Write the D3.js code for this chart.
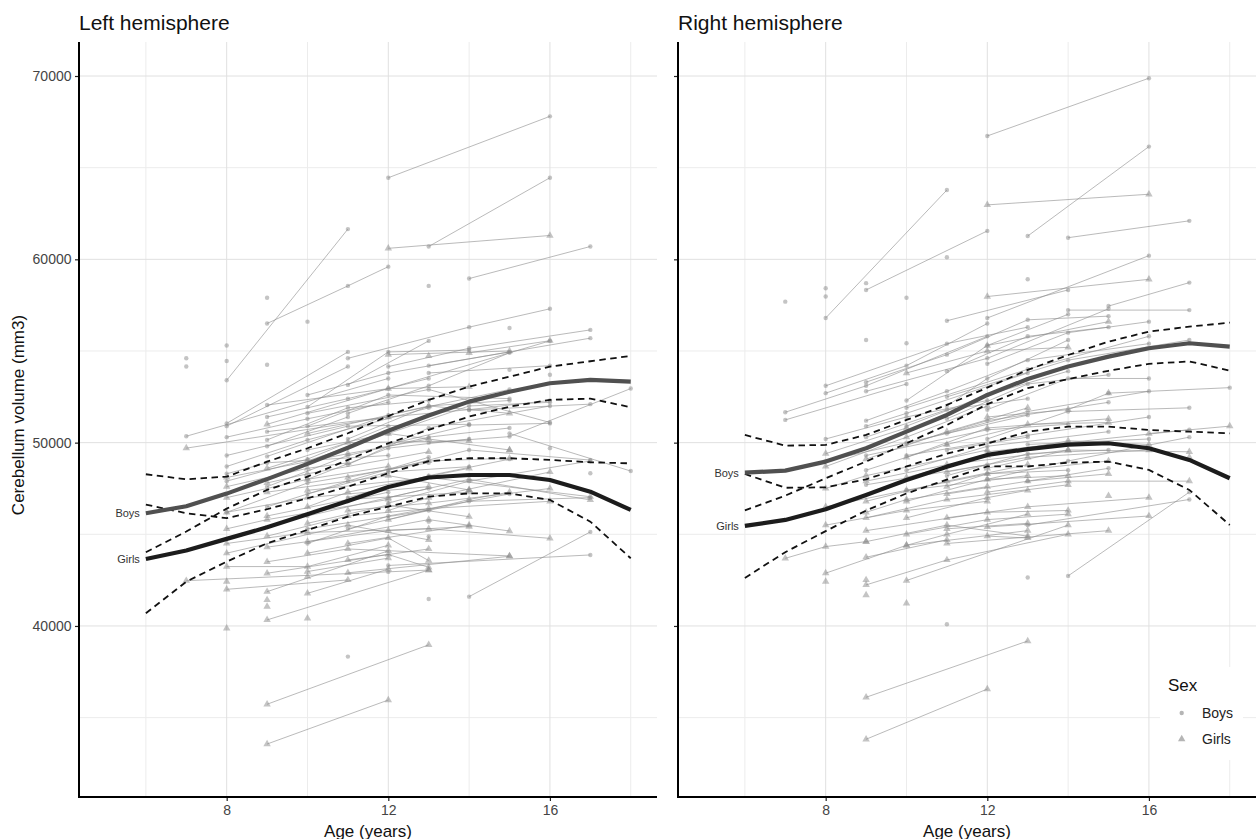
<!DOCTYPE html>
<html><head><meta charset="utf-8">
<script src="https://cdn.jsdelivr.net/npm/d3@7"></script>
<style>body{margin:0;background:#fff;} svg{display:block;font-family:"Liberation Sans",Arial,Helvetica,sans-serif;}</style>
</head><body><svg id="c" width="1256" height="839"></svg>
<script>
// ---------- DATA ----------
const ages = [6,7,8,9,10,11,12,13,14,15,16,17,18];

const leftBoysMean  = [46150,46530,47220,48010,48840,49720,50650,51480,52237,52780,53240,53420,53330];
const leftBoysUpper = [48276,48000,48145,48963,49694,50513,51450,52330,53055,53600,54146,54440,54730];
const leftBoysLower = [44024,45150,46400,47420,48145,49056,49967,50700,51419,51960,52334,52400,51930];
const leftGirlsMean = [43650,44120,44750,45380,46100,46820,47580,48100,48236,48236,47963,47325,46330];
const leftGirlsUpper= [46620,46150,45880,46367,46967,47600,48330,48990,49150,49150,49056,48930,48870];
const leftGirlsLower= [40690,42417,43508,44512,45237,45963,46510,47054,47236,47236,46875,45690,43693];

const rightBoysMean  = [48364,48473,48965,49694,50600,51511,52602,53470,54150,54691,55149,55422,55240];
const rightBoysUpper = [50420,49836,49875,50420,51238,52057,53000,53966,54780,55510,56055,56328,56546];
const rightBoysLower = [46308,47110,48055,48968,49962,50965,52100,52974,53470,53920,54300,54430,53930];
const rightGirlsMean = [45456,45783,46367,47147,47965,48691,49329,49650,49890,49967,49694,49056,48058];
const rightGirlsUpper= [48292,47540,47560,48000,48700,49400,49950,50600,50873,50873,50693,50600,50510];
const rightGirlsLower= [42620,44026,45174,46294,47230,47982,48708,48700,48910,48965,48510,47420,45510];

const xMajorTicks = [8,12,16];
const xMinorTicks = [6,10,14,18];
const yMajorTicks = [40000,50000,60000,70000];
const yMinorTicks = [35000,45000,55000,65000];
const legendLabels = ["Boys","Girls"];

// subjects: [sex, [[age, volume], ...]]
const leftSubjects = [
 ["B",[[12,64450],[16,67800]]],["B",[[13,60700],[16,64450]]],["G",[[12,60600],[16,61300]]],
 ["B",[[14,58950],[17,60700]]],["B",[[13,58550]]],["B",[[8,53400],[11,61650]]],
 ["B",[[9,56500],[11,58550],[12,59600]]],["B",[[7,54600]]],["B",[[7,54150]]],["B",[[8,55300]]],
 ["B",[[8,54450]]],["B",[[9,57900]]],["B",[[9,54250]]],["B",[[10,56600]]],
 ["B",[[7,50350],[12,53500]]],["G",[[7,49700],[12,51400]]],["B",[[8,51050],[11,54950]]],
 ["B",[[8,50900],[11,54150]]],["B",[[11,54600],[14,56300],[16,57300]]],["B",[[15,56250]]],
 ["B",[[11,53150],[13,55550]]],["B",[[12,54150],[14,55150],[17,56150]]],["G",[[14,54900],[16,55560]]],
 ["B",[[13,54200],[17,55700]]],["B",[[10,52600],[12,53800],[15,54950]]],["G",[[12,54800],[15,55000]]],
 ["G",[[13,54730]]],["B",[[15,53970]]],["B",[[16,53700]]],["B",[[9,52050],[12,52950],[16,55550]]],
 ["B",[[9,51400],[11,52400],[13,53500]]],["B",[[10,51950],[12,54950],[14,55050]]],
 ["B",[[9,50600],[12,51400],[14,51800],[16,52300]]],["B",[[10,51600],[13,52900],[16,51100]]],
 ["B",[[9,50150],[11,51900],[13,52300]]],["B",[[10,50900],[12,52600],[15,52400]]],
 ["B",[[8,48700],[10,50150],[13,51900]]],["B",[[9,49250],[12,51500],[15,52900]]],
 ["B",[[8,49300],[11,50900],[14,51000]]],["B",[[10,49600],[12,50500],[14,52000],[16,52200]]],
 ["B",[[11,50200],[13,52000],[15,52300]]],["B",[[12,49900],[14,50960],[16,51050]]],
 ["B",[[8,47900],[10,49100],[12,50900]]],["B",[[9,47600],[11,49300],[13,50300],[15,50800]]],
 ["B",[[10,48000],[12,49700],[14,50200]]],["B",[[11,48800],[13,50800],[16,52000]]],
 ["B",[[14,51780],[17,52100]]],["B",[[13,50000],[15,50330],[18,52950]]],
 ["B",[[12,48500],[14,49600],[17,49050]]],["B",[[16,49700]]],["B",[[17,48330]]],
 ["B",[[15,50500],[18,48450]]],["B",[[9,46500],[11,47900],[13,49200]]],
 ["B",[[10,47200],[12,48400],[14,48690]]],["B",[[8,46200],[10,47800],[13,48900]]],
 ["B",[[11,47000],[13,48200],[15,49100]]],["B",[[12,46700],[14,47900],[17,49000]]],
 ["B",[[9,45400],[11,46800],[12,47300]]],["B",[[10,46000],[13,47500]]],["B",[[13,45690]]],
 ["B",[[13,44880]]],["B",[[14,41600],[17,45130]]],["B",[[13,41470]]],["B",[[11,38330]]],
 ["B",[[12,42950]]],["B",[[10,44500],[12,46000],[15,47200]]],["B",[[11,45300],[14,46800],[17,47000]]],
 ["B",[[12,43300],[17,43875]]],
 ["B",[[8,50300],[10,51300],[12,52200]]],["B",[[9,49800],[11,51400]]],
 ["B",[[8,48300],[9,48900],[12,49300]]],["B",[[11,51600],[13,53100],[15,54900]]],
 ["B",[[13,53800],[16,54200]]],["B",[[10,45300],[13,46300]]],
 ["G",[[9,51000],[12,52950],[14,53050]]],["G",[[10,50500],[13,52000],[15,51600]]],
 ["G",[[8,48100],[11,49400],[13,50200]]],["G",[[9,48600],[11,50000],[14,50100]]],
 ["G",[[10,49000],[12,50500],[15,49600]]],["G",[[11,48100],[13,49000],[15,49150]]],
 ["G",[[8,47000],[10,48000],[12,48700]]],["G",[[9,47300],[12,48200],[14,47420]]],
 ["G",[[10,47400],[13,48100],[17,47050]]],["G",[[12,47000],[14,48000],[17,46875]]],
 ["G",[[8,46200],[10,47000],[13,47600]]],["G",[[9,46000],[11,46900],[14,47300]]],
 ["G",[[11,46300],[13,46700],[16,47500]]],["G",[[10,45600],[12,46600],[14,45960]]],
 ["G",[[8,45300],[9,45800],[12,46900]]],["G",[[9,44900],[11,46000],[13,46400],[16,46800]]],
 ["G",[[10,44600],[13,45800],[15,45180]]],["G",[[8,44500],[10,45100],[13,45300],[16,44780]]],
 ["G",[[9,44300],[12,45200],[14,45420]]],["G",[[11,44500],[14,45500]]],
 ["G",[[8,43970],[11,45500],[13,44700]]],["G",[[9,43500],[11,44200],[15,43820]]],
 ["G",[[10,43970],[12,44800],[13,43565]]],["G",[[8,43240],[10,43240],[12,44400]]],
 ["G",[[7,42470],[13,43050]]],["G",[[8,42000],[11,42510]]],["G",[[9,42875],[12,43900],[13,43200]]],
 ["G",[[9,41870],[12,44100]]],["G",[[10,41780],[12,43100]]],["G",[[8,42420]]],["G",[[9,41420]]],
 ["G",[[9,41055]]],["G",[[10,42970],[12,43700]]],["G",[[10,42690]]],["G",[[9,40330],[13,43050]]],
 ["G",[[8,39870]]],["G",[[10,40420]]],["G",[[9,35730],[13,38970]]],["G",[[9,33560],[12,35960]]],
 ["G",[[11,42900],[15,43800]]],["G",[[14,47420]]],["G",[[15,49600]]],
 ["G",[[8,47600],[10,48600],[11,48900]]],["G",[[9,47800],[10,48300],[13,49500]]],
 ["G",[[10,46500],[11,47300],[14,48600]]],["G",[[12,45800],[14,46900],[15,47300]]],
 ["G",[[11,43600],[13,44200]]],["G",[[12,46300],[13,47000],[16,48400]]]
];

const rightSubjects = [
 ["B",[[12,66730],[16,69880]]],["B",[[8,56800],[11,63780]]],["B",[[9,58330],[12,61550]]],
 ["B",[[9,58700]]],["B",[[8,58420]]],["B",[[8,57970]]],["G",[[12,62970],[16,63550]]],
 ["B",[[13,61270],[16,66150]]],["B",[[14,61180],[17,62100]]],["B",[[11,60110]]],["B",[[13,58910]]],
 ["B",[[7,57690]]],["B",[[9,55600]]],["B",[[10,55420]]],["B",[[10,57900]]],
 ["G",[[12,57970],[16,58910]]],["B",[[11,56650],[14,58330]]],["B",[[12,56800],[16,60200]]],
 ["B",[[15,57450],[17,58730]]],["B",[[14,57230],[17,57230]]],
 ["G",[[9,36110],[13,39180]]],["G",[[9,33820],[12,36560]]],["B",[[11,40090]]],["B",[[13,42640]]],
 ["B",[[14,42730],[17,47300]]],["G",[[7,43690],[8,44330],[9,44600]]],["G",[[8,42420]]],
 ["G",[[9,43750],[11,44700]]],["G",[[9,42510]]],["G",[[9,41690]]],["G",[[10,41240]]],
 ["G",[[8,42880],[10,44400],[13,45200]]],["G",[[9,42240],[11,43600],[14,45000]]],
 ["G",[[10,42480],[14,45500]]],["G",[[11,44500],[15,45200]]],["G",[[12,45400],[16,46000]]],
 ["B",[[13,45500],[17,46900]]],
 ["B",[[7,51660],[9,53100],[12,55800]]],["B",[[7,51240],[10,53200]]],
 ["B",[[8,53100],[11,55400],[13,56300]]],["B",[[8,52700],[10,54200],[12,56500]]],
 ["B",[[9,53300],[11,54800],[13,56700],[15,56900]]],["G",[[10,53800],[12,55000],[14,55200]]],
 ["B",[[9,52800],[12,54600],[15,57300]]],["B",[[10,52300],[12,55300],[14,57000]]],
 ["B",[[11,53900],[13,55800],[15,56300]]],["B",[[12,54300],[14,56000],[16,56600]]],
 ["B",[[10,51900],[13,54000],[16,55800]]],["G",[[12,55300],[15,56600]]],
 ["B",[[11,52500],[14,54500],[17,55600]]],["B",[[9,51200],[11,52800],[13,54500],[16,55400]]],
 ["B",[[10,50900],[12,52600],[14,53900]]],["B",[[11,51300],[13,53200],[15,53700]]],
 ["B",[[12,51800],[14,53500],[16,53500]]],["B",[[15,52700],[18,53000]]],["G",[[16,50500],[18,50900]]],
 ["B",[[9,50300],[11,51800],[13,52400]]],["B",[[10,49900],[12,51200],[15,52200]]],
 ["B",[[8,50200],[10,51400],[12,52300]]],["B",[[11,50500],[13,51700],[16,52800]]],
 ["B",[[12,50200],[14,51700],[17,51900]]],["B",[[9,49300],[12,50700],[14,51000]]],
 ["B",[[10,49300],[13,50400],[16,51400]]],["B",[[11,49600],[13,50300]]],
 ["B",[[8,49000],[10,50000],[13,51500]]],["B",[[12,49500],[14,50000],[17,50700]]],
 ["B",[[9,48500],[11,49900]]],["B",[[10,48500],[12,49800],[15,50600]]],["B",[[13,49900],[16,50200]]],
 ["B",[[11,48200],[13,49400],[15,49600]]],["B",[[12,48000],[14,49000],[17,50300]]],
 ["B",[[9,47700],[12,48800]]],["B",[[10,47400],[12,48300],[14,48500]]],
 ["B",[[9,50900],[10,51600],[13,53800]]],["B",[[11,52000],[12,53500],[14,55600]]],
 ["B",[[13,47900],[15,48600]]],
 ["G",[[8,48700],[10,50300],[12,52000]]],["G",[[9,49100],[11,50600],[13,51900]]],
 ["G",[[10,49200],[12,50800],[15,51300]]],["G",[[11,49900],[13,51000],[15,51100]]],
 ["G",[[8,47500],[9,48200],[12,49600]]],["G",[[9,47900],[11,48800],[14,49600]]],
 ["G",[[10,48100],[12,49300],[14,50100],[16,49900]]],["G",[[11,48400],[13,49200],[16,49600]]],
 ["G",[[12,48600],[14,49600],[17,49500]]],["G",[[9,46800],[11,47900],[13,48800]]],
 ["G",[[10,46800],[12,48000],[14,48200]]],["G",[[8,46500],[10,47400],[13,48200]]],
 ["G",[[11,47200],[13,47900],[15,48300]]],["G",[[12,47300],[14,47900],[17,47900]]],
 ["G",[[9,45900],[11,46900],[14,47700]]],["G",[[10,45900],[12,47000],[13,47400]]],
 ["G",[[8,45500],[10,46300],[12,46800]]],["G",[[9,45200],[12,46200],[14,46300]]],
 ["G",[[11,45900],[13,46500],[16,47000]]],["G",[[10,45000],[12,45800],[14,46100]]],
 ["G",[[9,44600],[11,45500],[13,44900]]],["G",[[11,45300],[13,45600]]],
 ["G",[[12,44900],[13,44800]]],["G",[[15,47100]]],["G",[[17,49200]]],
 ["G",[[8,49400],[10,50800]]],["G",[[9,46200],[10,46900],[12,47600]]],
 ["G",[[10,44400],[11,45000],[13,46100]]],["G",[[12,51400],[14,51800],[15,52700]]],
 ["G",[[11,47600],[12,48300],[15,49000]]]
];

// ---------- DRAW ----------
const svg = d3.select("#c");
const yTop = 42, yBot = 797;
const y = d3.scaleLinear().domain([30670, 71855]).range([yBot, yTop]);

const panels = [
  {title:"Left hemisphere", x0:79, x1:657, subjects:leftSubjects, yLabels:true,
   bm:leftBoysMean, bu:leftBoysUpper, bl:leftBoysLower, gm:leftGirlsMean, gu:leftGirlsUpper, gl:leftGirlsLower},
  {title:"Right hemisphere", x0:678, x1:1256, subjects:rightSubjects, yLabels:false,
   bm:rightBoysMean, bu:rightBoysUpper, bl:rightBoysLower, gm:rightGirlsMean, gu:rightGirlsUpper, gl:rightGirlsLower}
];

const tri = d3.symbol().type(d3.symbolTriangle).size(24);

panels.forEach((p, pi) => {
  const x = d3.scaleLinear().domain([4.345, 18.65]).range([p.x0, p.x1]);
  const g = svg.append("g");

  // grid
  const grid = g.append("g");
  grid.selectAll(".hmin").data(yMinorTicks).join("line")
    .attr("x1", p.x0).attr("x2", p.x1).attr("y1", d=>y(d)).attr("y2", d=>y(d))
    .attr("stroke", "#ececec").attr("stroke-width", 1);
  grid.selectAll(".vmin").data(xMinorTicks).join("line")
    .attr("y1", yTop).attr("y2", yBot).attr("x1", d=>x(d)).attr("x2", d=>x(d))
    .attr("stroke", "#ececec").attr("stroke-width", 1);
  grid.selectAll(".hmaj").data(yMajorTicks).join("line")
    .attr("x1", p.x0).attr("x2", p.x1).attr("y1", d=>y(d)).attr("y2", d=>y(d))
    .attr("stroke", "#e0e0e0").attr("stroke-width", 1);
  grid.selectAll(".vmaj").data(xMajorTicks).join("line")
    .attr("y1", yTop).attr("y2", yBot).attr("x1", d=>x(d)).attr("x2", d=>x(d))
    .attr("stroke", "#e0e0e0").attr("stroke-width", 1);

  const line = d3.line().x(d=>x(d[0])).y(d=>y(d[1]));

  // individual trajectories
  g.append("g").selectAll("path").data(p.subjects.filter(s=>s[1].length>1)).join("path")
    .attr("d", s=>line(s[1])).attr("fill","none")
    .attr("stroke","#8c8c8c").attr("stroke-opacity",0.6).attr("stroke-width",1);

  // points
  const pts = [];
  p.subjects.forEach(s => s[1].forEach(v => pts.push({sex:s[0], a:v[0], v:v[1]})));
  const pg = g.append("g");
  pg.selectAll("circle").data(pts.filter(d=>d.sex==="B")).join("circle")
    .attr("cx", d=>x(d.a)).attr("cy", d=>y(d.v)).attr("r", 2.2)
    .attr("fill","#8a8a8a").attr("fill-opacity",0.5);
  pg.selectAll("path").data(pts.filter(d=>d.sex==="G")).join("path")
    .attr("d", tri).attr("transform", d=>`translate(${x(d.a)},${y(d.v)})`)
    .attr("fill","#8a8a8a").attr("fill-opacity",0.5);

  // confidence bands (dashed)
  const cl = d3.line().x((d,i)=>x(ages[i])).y(d=>y(d));
  [p.bu, p.bl, p.gu, p.gl].forEach(arr => {
    g.append("path").attr("d", cl(arr)).attr("fill","none")
      .attr("stroke","#111").attr("stroke-width",1.8).attr("stroke-dasharray","6.5,4.5");
  });
  // mean curves
  g.append("path").attr("d", cl(p.bm)).attr("fill","none")
    .attr("stroke","#505050").attr("stroke-width",4.2).attr("stroke-linejoin","round");
  g.append("path").attr("d", cl(p.gm)).attr("fill","none")
    .attr("stroke","#1c1c1c").attr("stroke-width",4.2).attr("stroke-linejoin","round");

  // curve labels
  g.append("text").attr("x", x(ages[0]) - 6).attr("y", y(p.bm[0]) + 4)
    .attr("text-anchor","end").attr("font-size",11).attr("fill","#333").text(legendLabels[0]);
  g.append("text").attr("x", x(ages[0]) - 6).attr("y", y(p.gm[0]) + 4)
    .attr("text-anchor","end").attr("font-size",11).attr("fill","#333").text(legendLabels[1]);

  // axes
  const yAxis = d3.axisLeft(y).tickValues(yMajorTicks).tickSize(4).tickPadding(3.5)
    .tickFormat(p.yLabels ? d3.format("d") : "");
  const ya = g.append("g").attr("transform", `translate(${p.x0},0)`).call(yAxis);
  ya.select(".domain").remove();
  ya.selectAll(".tick line").attr("stroke","#222").attr("stroke-width",1.2);
  ya.selectAll(".tick text").attr("font-size",14).attr("fill","#444")
    .attr("font-family","Liberation Sans, Arial, sans-serif");

  const xAxis = d3.axisBottom(x).tickValues(xMajorTicks).tickSize(4).tickPadding(4);
  const xa = g.append("g").attr("transform", `translate(0,${yBot})`).call(xAxis);
  xa.select(".domain").remove();
  xa.selectAll(".tick line").attr("stroke","#222").attr("stroke-width",1.2);
  xa.selectAll(".tick text").attr("font-size",14).attr("fill","#444")
    .attr("font-family","Liberation Sans, Arial, sans-serif");

  g.append("line").attr("x1", p.x0).attr("x2", p.x0).attr("y1", yTop).attr("y2", yBot+1)
    .attr("stroke","#000").attr("stroke-width",2);
  g.append("line").attr("x1", p.x0-1).attr("x2", p.x1).attr("y1", yBot).attr("y2", yBot)
    .attr("stroke","#000").attr("stroke-width",2);

  // titles
  g.append("text").attr("x", p.x0).attr("y", 29.5).attr("font-size",21).attr("fill","#111").text(p.title);
  g.append("text").attr("x", (p.x0+p.x1)/2).attr("y", 836.5).attr("text-anchor","middle")
    .attr("font-size",17).attr("fill","#111").text("Age (years)");
});

// y axis title
svg.append("text").attr("transform","translate(24,415) rotate(-90)").attr("text-anchor","middle")
  .attr("font-size",17).attr("fill","#111").text("Cerebellum volume (mm3)");

// legend
const lg = svg.append("g");
lg.append("rect").attr("x",1160).attr("y",667).attr("width",83).attr("height",93).attr("fill","#fff");
lg.append("text").attr("x",1168).attr("y",691).attr("font-size",17).attr("fill","#111").text("Sex");
lg.append("circle").attr("cx",1181.7).attr("cy",713).attr("r",2.2).attr("fill","#b5b5b5");
lg.append("path").attr("d",tri).attr("transform","translate(1181.7,739)").attr("fill","#b5b5b5");
lg.append("text").attr("x",1202).attr("y",718).attr("font-size",14).attr("fill","#222").text(legendLabels[0]);
lg.append("text").attr("x",1202).attr("y",744).attr("font-size",14).attr("fill","#222").text(legendLabels[1]);
</script></body></html>
